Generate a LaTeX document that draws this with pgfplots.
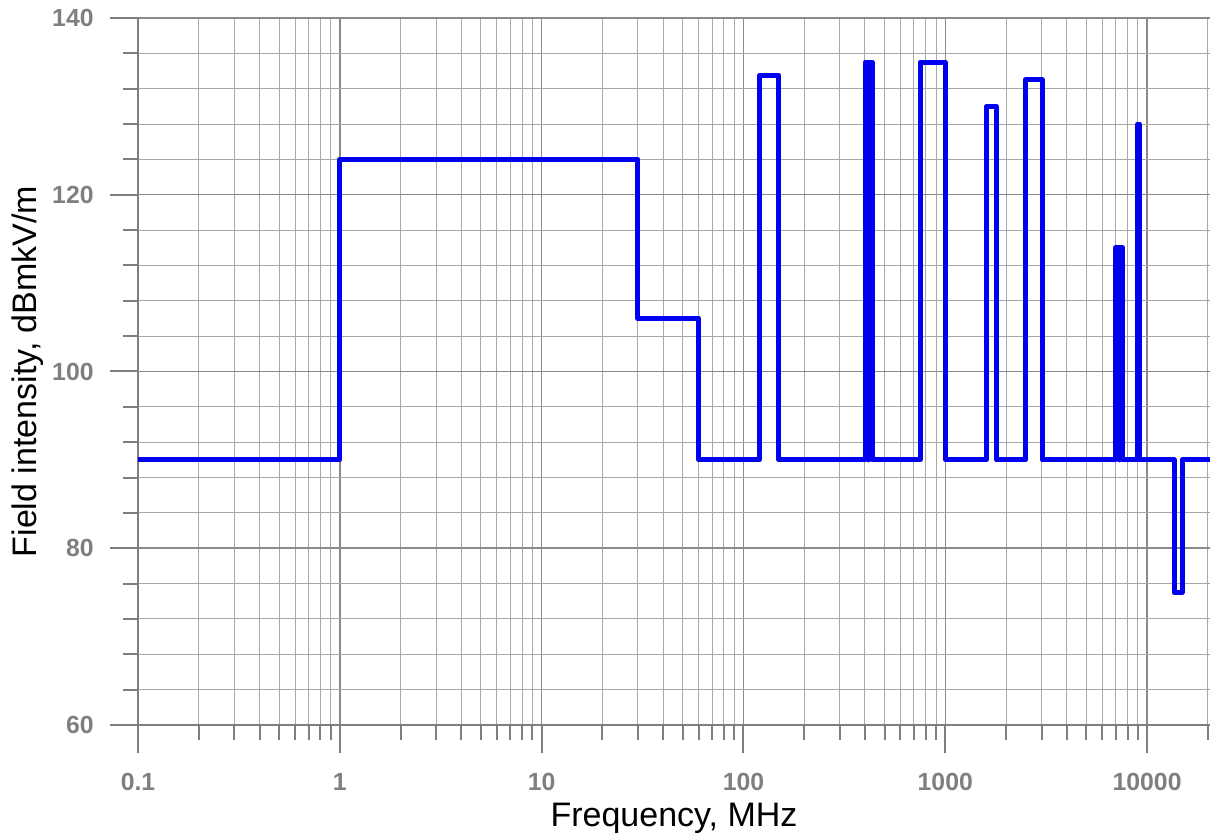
\documentclass[border=0pt]{standalone}
\usepackage{fontspec}
\setmainfont{Liberation Sans}
\usepackage{pgfplots}
\pgfplotsset{compat=1.18}
\definecolor{tickgray}{HTML}{7F7F7F}
\definecolor{majgrid}{HTML}{8A8A8A}
\definecolor{mingrid}{HTML}{A8A8A8}
\definecolor{lineblue}{HTML}{0000F0}
\begin{document}
\begin{tikzpicture}
\begin{axis}[
  name=ax,
  scale only axis, width=536pt, height=353.5pt,
  xmode=log, log basis x=10,
  xmin=0.1, xmax=20500, ymin=60, ymax=140,
  xtick={0.1,1,10,100,1000,10000},
  xticklabels={0.1,1,10,100,1000,10000},
  minor xtick={0.2,0.3,0.4,0.5,0.6,0.7,0.8,0.9,2,3,4,5,6,7,8,9,20,30,40,50,60,70,80,90,200,300,400,500,600,700,800,900,2000,3000,4000,5000,6000,7000,8000,9000,20000},
  ytick={60,80,100,120,140},
  minor ytick={64,68,72,76,84,88,92,96,104,108,112,116,124,128,132,136},
  grid=both,
  major grid style={majgrid, line width=0.75pt},
  minor grid style={mingrid, line width=0.5pt},
  axis x line*=bottom, axis y line*=left,
  axis line style={tickgray, line width=1pt, -},
  tick align=outside,
  major tick length=14pt, minor tick length=7.5pt,
  tick style={tickgray, line width=1pt},
  minor tick style={tickgray, line width=1pt},
  /pgf/number format/assume math mode=true,
  tick label style={font=\bfseries\fontsize{12.4}{14}\selectfont, text=tickgray},
  xticklabel style={yshift=-6.5pt},
  yticklabel style={xshift=-4.7pt},
  xlabel={Frequency, MHz}, ylabel={Field intensity, dBmkV/m},
  label style={font=\fontsize{17}{20}\selectfont, text=black},
  xlabel style={at={(axis description cs:0.5,-0.1315)}, anchor=center},
  ylabel style={at={(axis description cs:-0.1031,0.5)}, anchor=center},
]
\addplot[lineblue, line width=2.5pt, line join=round, line cap=round] coordinates {
(0.1,90) (1,90) (1,124) (30,124) (30,106) (60,106) (60,90)
(120,90) (120,133.5) (150,133.5) (150,90)
(401,90) (401,135) (418,135) (418,90) (418,135) (435,135) (435,90)
(750,90) (750,135) (1000,135) (1000,90)
(1600,90) (1600,130) (1790,130) (1790,90)
(2500,90) (2500,133) (3020,133) (3020,90)
(6980,90) (6980,114) (7260,114) (7260,90) (7260,114) (7560,114) (7560,90)
(8980,90) (8980,128) (9150,128) (9150,90)
(13600,90) (13600,75) (14900,75) (14900,90) (20500,90)
};
\end{axis}
\pgfresetboundingbox
\path[use as bounding box] ([shift={(-69pt,-55.5pt)}]ax.south west) rectangle ([shift={(0pt,9pt)}]ax.north east);
\end{tikzpicture}
\end{document}
